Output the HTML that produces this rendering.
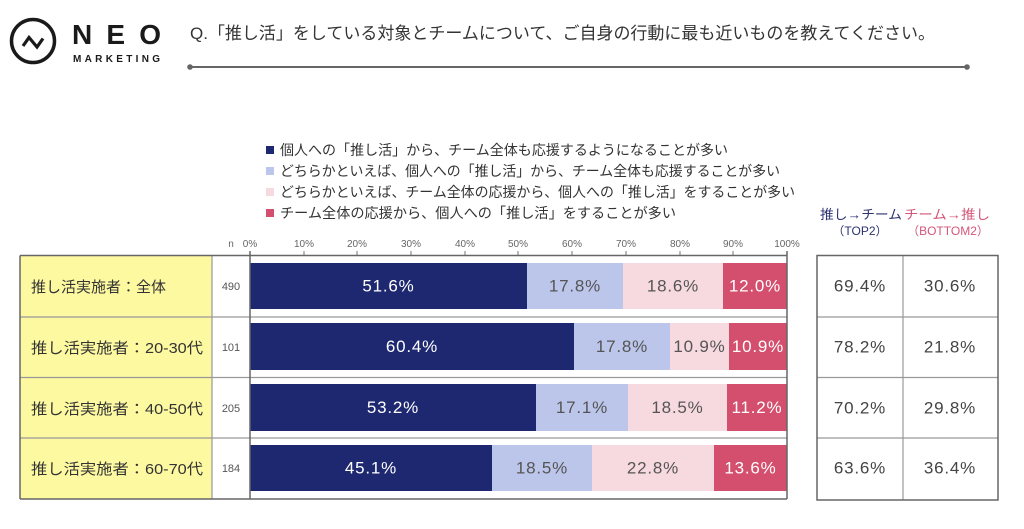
<!DOCTYPE html>
<html><head><meta charset="utf-8">
<style>
html,body{margin:0;padding:0;background:#fff;}
svg{display:block;}
text{font-family:"Liberation Sans","Noto Sans CJK JP",sans-serif;}
</style></head>
<body>
<svg width="1024" height="529" viewBox="0 0 1024 529" xmlns="http://www.w3.org/2000/svg">
<rect width="1024" height="529" fill="#fff"/>
<!-- Logo -->
<circle cx="33" cy="41" r="21.5" fill="none" stroke="#1a1a1a" stroke-width="3.5"/>
<polyline points="23,46 29,37.5 37,47 43,38.5" fill="none" stroke="#1a1a1a" stroke-width="3.2" stroke-linejoin="miter"/>
<text x="72" y="44" font-size="28" font-weight="bold" fill="#1a1a1a" textLength="89" lengthAdjust="spacing">NEO</text>
<text x="73" y="62" font-size="10" font-weight="bold" fill="#1a1a1a" textLength="87" lengthAdjust="spacing">MARKETING</text>
<!-- Question -->
<text x="190" y="39" font-size="17" fill="#333" textLength="745" lengthAdjust="spacingAndGlyphs">Q.「推し活」をしている対象とチームについて、ご自身の行動に最も近いものを教えてください。</text>
<line x1="190" y1="67" x2="967" y2="67" stroke="#666" stroke-width="2"/>
<circle cx="190" cy="67" r="2.8" fill="#666"/>
<circle cx="967" cy="67" r="2.8" fill="#666"/>
<!-- Legend -->
<g font-size="14" fill="#333">
<rect x="266" y="146" width="8" height="8" fill="#1e2870"/>
<text x="280" y="155" textLength="448" lengthAdjust="spacingAndGlyphs">個人への「推し活」から、チーム全体も応援するようになることが多い</text>
<rect x="266" y="167" width="8" height="8" fill="#bcc6eb"/>
<text x="280" y="176" textLength="500" lengthAdjust="spacingAndGlyphs">どちらかといえば、個人への「推し活」から、チーム全体も応援することが多い</text>
<rect x="266" y="188" width="8" height="8" fill="#f7d9e0"/>
<text x="280" y="197" textLength="515" lengthAdjust="spacingAndGlyphs">どちらかといえば、チーム全体の応援から、個人への「推し活」をすることが多い</text>
<rect x="266" y="209" width="8" height="8" fill="#d44f6e"/>
<text x="280" y="218" textLength="396" lengthAdjust="spacingAndGlyphs">チーム全体の応援から、個人への「推し活」をすることが多い</text>
</g>
<!-- Axis labels -->
<g font-size="10" fill="#666" text-anchor="middle">
<text x="231" y="247">n</text>
<text x="250" y="247">0%</text>
<text x="304" y="247">10%</text>
<text x="357" y="247">20%</text>
<text x="411" y="247">30%</text>
<text x="465" y="247">40%</text>
<text x="518" y="247">50%</text>
<text x="572" y="247">60%</text>
<text x="626" y="247">70%</text>
<text x="680" y="247">80%</text>
<text x="733" y="247">90%</text>
<text x="787" y="247">100%</text>
</g>
<g stroke="#777" stroke-width="1">
<line x1="304" y1="251" x2="304" y2="255"/>
<line x1="357" y1="251" x2="357" y2="255"/>
<line x1="411" y1="251" x2="411" y2="255"/>
<line x1="465" y1="251" x2="465" y2="255"/>
<line x1="518" y1="251" x2="518" y2="255"/>
<line x1="572" y1="251" x2="572" y2="255"/>
<line x1="626" y1="251" x2="626" y2="255"/>
<line x1="680" y1="251" x2="680" y2="255"/>
<line x1="733" y1="251" x2="733" y2="255"/>
</g>
<!-- Left label table -->
<rect x="20" y="256" width="192" height="243" fill="#fdf9a1"/>
<!-- Bars -->
<!-- Row1 -->
<rect x="250" y="263" width="277" height="46" fill="#1e2870"/>
<rect x="527" y="263" width="96" height="46" fill="#bcc6eb"/>
<rect x="623" y="263" width="100" height="46" fill="#f7d9e0"/>
<rect x="723" y="263" width="64" height="46" fill="#d44f6e"/>
<!-- Row2 -->
<rect x="250" y="323" width="324" height="47" fill="#1e2870"/>
<rect x="574" y="323" width="96" height="47" fill="#bcc6eb"/>
<rect x="670" y="323" width="59" height="47" fill="#f7d9e0"/>
<rect x="729" y="323" width="58" height="47" fill="#d44f6e"/>
<!-- Row3 -->
<rect x="250" y="384" width="286" height="47" fill="#1e2870"/>
<rect x="536" y="384" width="92" height="47" fill="#bcc6eb"/>
<rect x="628" y="384" width="99" height="47" fill="#f7d9e0"/>
<rect x="727" y="384" width="60" height="47" fill="#d44f6e"/>
<!-- Row4 -->
<rect x="250" y="445" width="242" height="46" fill="#1e2870"/>
<rect x="492" y="445" width="100" height="46" fill="#bcc6eb"/>
<rect x="592" y="445" width="122" height="46" fill="#f7d9e0"/>
<rect x="714" y="445" width="73" height="46" fill="#d44f6e"/>
<!-- Grid lines -->
<g stroke="#999" stroke-width="1.2">
<line x1="20" y1="317" x2="787" y2="317"/>
<line x1="20" y1="377.5" x2="787" y2="377.5"/>
<line x1="20" y1="438" x2="787" y2="438"/>
<line x1="212" y1="256" x2="212" y2="499"/>
</g>
<g stroke="#666" stroke-width="1.5" fill="none">
<line x1="20" y1="255.5" x2="787" y2="255.5"/>
<line x1="20" y1="499" x2="787" y2="499"/>
<line x1="20" y1="255.5" x2="20" y2="499"/>
<line x1="250" y1="251" x2="250" y2="499"/>
<line x1="787" y1="251" x2="787" y2="499"/>
</g>
<!-- Row labels -->
<g font-size="15" fill="#333">
<text x="31" y="292" textLength="135" lengthAdjust="spacingAndGlyphs">推し活実施者：全体</text>
<text x="31" y="353" textLength="172" lengthAdjust="spacingAndGlyphs">推し活実施者：20-30代</text>
<text x="31" y="414" textLength="172" lengthAdjust="spacingAndGlyphs">推し活実施者：40-50代</text>
<text x="31" y="474" textLength="172" lengthAdjust="spacingAndGlyphs">推し活実施者：60-70代</text>
</g>
<g font-size="11" fill="#555" text-anchor="middle">
<text x="231" y="290">490</text>
<text x="231" y="351">101</text>
<text x="231" y="412">205</text>
<text x="231" y="472">184</text>
</g>
<!-- Segment labels -->
<g font-size="17" text-anchor="middle" dominant-baseline="central" letter-spacing="0.8">
<text x="388.5" y="286" fill="#fff">51.6%</text>
<text x="575" y="286" fill="#555">17.8%</text>
<text x="673" y="286" fill="#555">18.6%</text>
<text x="755" y="286" fill="#fff">12.0%</text>

<text x="412" y="346.5" fill="#fff">60.4%</text>
<text x="622" y="346.5" fill="#555">17.8%</text>
<text x="699.5" y="346.5" fill="#555">10.9%</text>
<text x="758" y="346.5" fill="#fff">10.9%</text>

<text x="393" y="407.5" fill="#fff">53.2%</text>
<text x="582" y="407.5" fill="#555">17.1%</text>
<text x="677.5" y="407.5" fill="#555">18.5%</text>
<text x="757" y="407.5" fill="#fff">11.2%</text>

<text x="371" y="468" fill="#fff">45.1%</text>
<text x="542" y="468" fill="#555">18.5%</text>
<text x="653" y="468" fill="#555">22.8%</text>
<text x="750.5" y="468" fill="#fff">13.6%</text>
</g>
<!-- Right header -->
<g font-size="13" text-anchor="middle">
<text x="861" y="219" fill="#2b3270" textLength="82" lengthAdjust="spacingAndGlyphs">推し→チーム</text>
<text x="860" y="235" fill="#2b3270" font-size="12">（TOP2）</text>
<text x="947" y="219" fill="#d4557a" textLength="86" lengthAdjust="spacingAndGlyphs">チーム→推し</text>
<text x="948" y="235" fill="#d4557a" font-size="12">（BOTTOM2）</text>
</g>
<!-- Right table -->
<g stroke="#999" stroke-width="1.2">
<line x1="817" y1="317" x2="998" y2="317"/>
<line x1="817" y1="377.5" x2="998" y2="377.5"/>
<line x1="817" y1="438" x2="998" y2="438"/>
<line x1="903" y1="255.5" x2="903" y2="500"/>
</g>
<rect x="817" y="255.5" width="181" height="244.5" fill="none" stroke="#666" stroke-width="1.5"/>
<g font-size="17" fill="#444" text-anchor="middle" dominant-baseline="central" letter-spacing="0.8">
<text x="860" y="286">69.4%</text>
<text x="950" y="286">30.6%</text>
<text x="860" y="347">78.2%</text>
<text x="950" y="347">21.8%</text>
<text x="860" y="408">70.2%</text>
<text x="950" y="408">29.8%</text>
<text x="860" y="468">63.6%</text>
<text x="950" y="468">36.4%</text>
</g>
</svg>
</body></html>
